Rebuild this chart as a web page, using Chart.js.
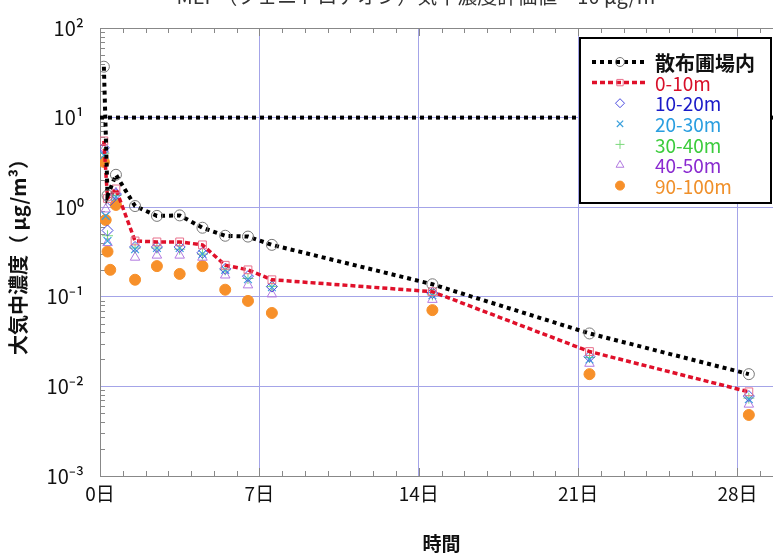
<!DOCTYPE html>
<html>
<head>
<meta charset="utf-8">
<script src="https://cdn.jsdelivr.net/npm/chart.js@4.4.1/dist/chart.umd.min.js"></script>
<style>
  html, body { margin: 0; padding: 0; background: #fff; overflow: hidden; }
  #wrap { width: 800px; height: 555px; }
</style>
</head>
<body>
<div id="wrap"><canvas id="myChart" width="800" height="555"></canvas></div>
<script>
// 採取時間 (日)
const days = [0.17, 0.25, 0.33, 0.45, 0.7, 1.54, 2.5, 3.5, 4.5, 5.5, 6.5, 7.55, 14.6, 21.5, 28.5];

// 大気中濃度 (μg/m3)
const inField = [37, null, 1.35, null, 2.3, 1.03, 0.80, 0.81, 0.59, 0.48, 0.47, 0.38, 0.138, 0.039, 0.0137];
const d0_10   = [5.5, null, 1.25, null, 1.6, 0.42, 0.41, 0.41, 0.38, 0.225, 0.20, 0.155, 0.114, 0.0245, 0.0087];
const d10_20  = [4.6, null, 0.55, 1.2, 1.4, 0.36, 0.36, 0.36, 0.31, 0.205, 0.17, 0.13, 0.11, 0.0215, 0.0078];
const d20_30  = [3.8, 0.8, 0.42, null, 1.3, 0.34, 0.35, 0.35, 0.30, 0.20, 0.157, 0.128, 0.104, 0.020, 0.0072];
const d30_40  = [4.0, null, 0.48, null, 1.35, 0.35, 0.35, 0.34, 0.30, 0.20, 0.16, 0.13, 0.105, 0.021, 0.0074];
const d40_50  = [4.4, 0.95, 0.40, null, 1.45, 0.275, 0.29, 0.29, 0.275, 0.174, 0.135, 0.107, 0.093, 0.018, 0.0063];
const d90_100 = [3.2, 0.72, 0.32, 0.2, 1.06, 0.155, 0.22, 0.18, 0.22, 0.12, 0.09, 0.066, 0.071, 0.0137, 0.0048];

// 気中濃度評価値
const limitValue = 10;
const limitDays = [0, 30];

// 目盛り
const xTicks = [0, 7, 14, 21, 28];
const xTickLabels = ['0日', '7日', '14日', '21日', '28日'];
const yTicks = [0.001, 0.01, 0.1, 1, 10, 100];
const yTickLabels = ['10⁻³', '10⁻²', '10⁻¹', '10⁰', '10¹', '10²'];

const seriesLabels = ['散布圃場内', '0-10m', '10-20m', '20-30m', '30-40m', '40-50m', '90-100m'];
const legendTextColors = ['#111', '#d8102a', '#1a1ac8', '#2a9ee0', '#3ccc3c', '#8a2ad0', '#f0902a'];

const jp = "'Noto Sans CJK JP', sans-serif";
const narrow = "'Liberation Sans Narrow', 'Noto Sans CJK JP', sans-serif";

function pts(vals) {
	let out = [];
	vals.forEach((v, i) => {
		if (v !== null) out.push({ x: days[i], y: v });
	});
	return out;
}

const datasets = [
	{
		label: seriesLabels[0], data: pts(inField), showLine: true,
		borderColor: '#000', borderWidth: 4, borderDash: [4, 4],
		pointStyle: 'circle', pointRadius: 5.5, pointBorderWidth: 1,
		pointBorderColor: '#777', pointBackgroundColor: 'rgba(255,255,255,0)'
	},
	{
		label: seriesLabels[1], data: pts(d0_10), showLine: true,
		borderColor: '#e0102a', borderWidth: 3.5, borderDash: [5, 3],
		pointStyle: 'rect', pointRadius: 5.5, pointBorderWidth: 1,
		pointBorderColor: '#e8708c', pointBackgroundColor: 'rgba(255,255,255,0)'
	},
	{
		label: seriesLabels[2], data: pts(d10_20), showLine: false,
		pointStyle: 'rectRot', pointRadius: 5.5, pointBorderWidth: 1,
		pointBorderColor: '#4a4ae0', pointBackgroundColor: 'rgba(255,255,255,0)'
	},
	{
		label: seriesLabels[3], data: pts(d20_30), showLine: false,
		pointStyle: 'crossRot', pointRadius: 5.5, pointBorderWidth: 1.2,
		pointBorderColor: '#3aa0dc', pointBackgroundColor: 'rgba(255,255,255,0)'
	},
	{
		label: seriesLabels[4], data: pts(d30_40), showLine: false,
		pointStyle: 'cross', pointRadius: 5.5, pointBorderWidth: 1,
		pointBorderColor: '#7ad87a', pointBackgroundColor: 'rgba(255,255,255,0)'
	},
	{
		label: seriesLabels[5], data: pts(d40_50), showLine: false,
		pointStyle: 'triangle', pointRadius: 5.5, pointBorderWidth: 1,
		pointBorderColor: '#b27ae0', pointBackgroundColor: 'rgba(255,255,255,0)'
	},
	{
		label: seriesLabels[6], data: pts(d90_100), showLine: false,
		pointStyle: 'circle', pointRadius: 5.5, pointBorderWidth: 1,
		pointBorderColor: '#f7902a', pointBackgroundColor: '#f7902a'
	},
	{
		label: '', data: limitDays.map(d => ({ x: d, y: limitValue })), showLine: true,
		borderColor: '#000', borderWidth: 4, borderDash: [4, 4], pointRadius: 0
	}
];

// 小目盛り・枠・タイトル
const extras = {
	id: 'extras',
	beforeDatasetsDraw(chart) {
		const { ctx, chartArea: a, scales } = chart;
		ctx.save();
		ctx.strokeStyle = '#888';
		ctx.lineWidth = 1;
		ctx.beginPath();
		for (let d = 0; d <= 30; d++) {
			let x = Math.round(scales.x.getPixelForValue(d)) + 0.5;
			let len = d % 7 === 0 ? 8 : 5;
			ctx.moveTo(x, a.bottom); ctx.lineTo(x, a.bottom - len);
			ctx.moveTo(x, a.top); ctx.lineTo(x, a.top + len);
		}
		for (let e = -3; e < 2; e++) {
			for (let m = 2; m <= 9; m++) {
				let y = Math.round(scales.y.getPixelForValue(m * Math.pow(10, e))) + 0.5;
				ctx.moveTo(a.left, y); ctx.lineTo(a.left + 5, y);
			}
		}
		ctx.moveTo(a.left, a.top + 0.5); ctx.lineTo(a.right, a.top + 0.5);
		ctx.stroke();
		ctx.restore();
	},
	afterDraw(chart) {
		const ctx = chart.ctx;
		ctx.save();
		// 上で切れたタイトル
		ctx.fillStyle = '#333';
		ctx.font = '20px ' + jp;
		ctx.textAlign = 'center';
		ctx.textBaseline = 'bottom';
		ctx.fillText('MEP（フェニトロチオン）気中濃度評価値 = 10 μg/m³', 420, 6);

		// 凡例
		const bx = 580, by = 38, bw = 191, bh = 165;
		ctx.fillStyle = '#fff';
		ctx.fillRect(bx, by, bw, bh);
		ctx.strokeStyle = '#000';
		ctx.lineWidth = 2;
		ctx.setLineDash([]);
		ctx.strokeRect(bx, by, bw, bh);
		ctx.textAlign = 'left';
		ctx.textBaseline = 'middle';
		seriesLabels.forEach((lab, i) => {
			let ds = chart.data.datasets[i];
			let y = 62 + i * 20.6;
			if (ds.showLine) {
				ctx.save();
				ctx.strokeStyle = ds.borderColor;
				ctx.lineWidth = ds.borderWidth;
				ctx.setLineDash(ds.borderDash);
				ctx.beginPath();
				ctx.moveTo(592, y); ctx.lineTo(648, y);
				ctx.stroke();
				ctx.restore();
			}
			ctx.save();
			ctx.strokeStyle = ds.pointBorderColor;
			ctx.fillStyle = ds.pointBackgroundColor;
			ctx.lineWidth = ds.pointBorderWidth;
			Chart.helpers.drawPoint(ctx, {
				pointStyle: ds.pointStyle, radius: 4.5, rotation: 0, borderWidth: ds.pointBorderWidth
			}, 620, y);
			ctx.restore();
			ctx.fillStyle = legendTextColors[i];
			ctx.font = (i === 0 ? 'bold 20px ' : '19px ') + jp;
			ctx.fillText(lab, 655, y + 1);
		});
		ctx.restore();
	}
};

new Chart(document.getElementById('myChart'), {
	type: 'scatter',
	data: { datasets: datasets },
	options: {
		responsive: false,
		animation: false,
		layout: { padding: { top: 23, right: 17, left: 0, bottom: 0 } },
		plugins: { legend: { display: false }, tooltip: { enabled: false } },
		elements: { line: { borderCapStyle: 'butt', tension: 0 } },
		scales: {
			x: {
				type: 'linear', min: 0, max: 30,
				afterBuildTicks: s => { s.ticks = xTicks.map(v => ({ value: v })); },
				afterFit: s => { s.height = 79; },
				ticks: {
					callback: (v, i) => xTickLabels[i],
					font: { family: narrow, size: 19 }, color: '#111', padding: 6, maxRotation: 0
				},
				grid: { color: '#a4a4e8', drawTicks: false },
				border: { color: '#888' },
				title: {
					display: true, text: '時間', color: '#111',
					font: { family: jp, size: 19, weight: 'bold' }, padding: { top: 0, bottom: 0 }
				}
			},
			y: {
				type: 'logarithmic', min: 0.001, max: 100,
				afterBuildTicks: s => { s.ticks = yTicks.map(v => ({ value: v })); },
				afterFit: s => { s.width = 100; },
				ticks: {
					callback: (v, i) => yTickLabels[i],
					font: { family: narrow, size: 20 }, color: '#111', padding: 16
				},
				grid: { color: '#a4a4e8', drawTicks: false },
				border: { color: '#888' },
				title: {
					display: true, text: '大気中濃度（ μg/m³）', color: '#111',
					font: { family: jp, size: 20, weight: 'bold' }, padding: { top: 6, bottom: 0 }
				}
			}
		}
	},
	plugins: [extras]
});
</script>
</body>
</html>
